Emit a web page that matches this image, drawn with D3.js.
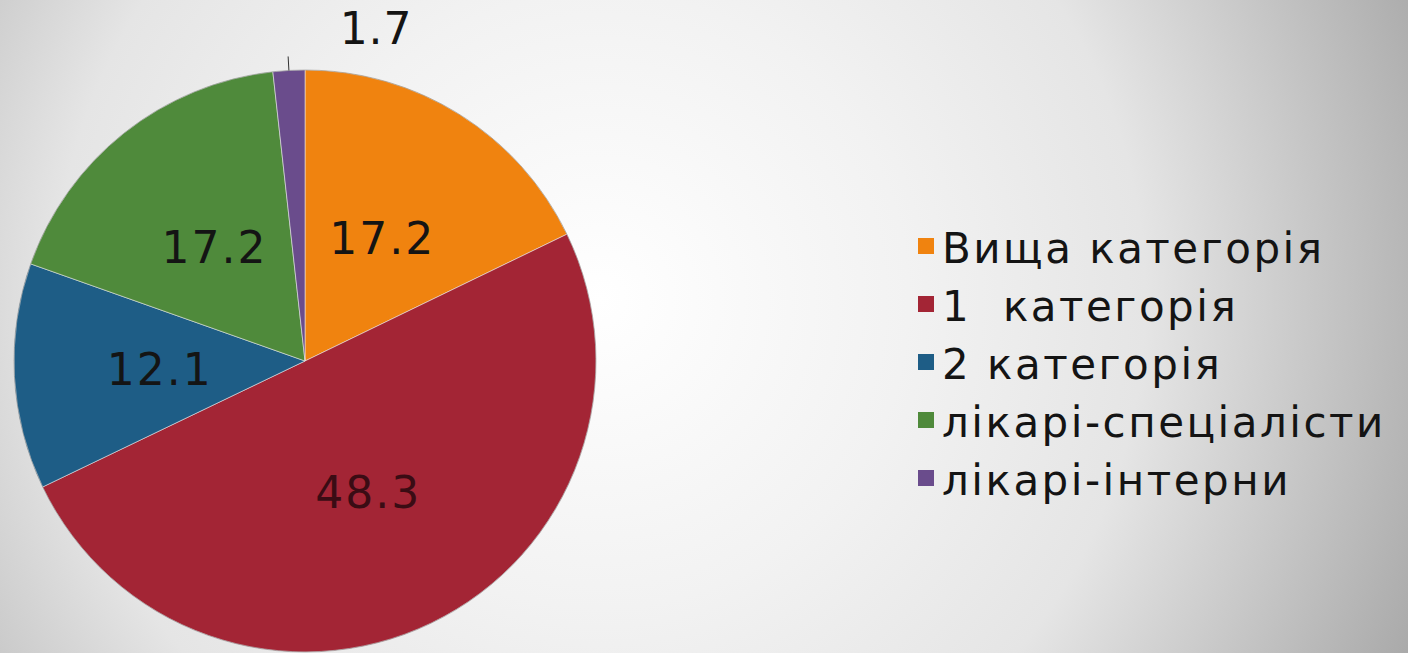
<!DOCTYPE html>
<html>
<head>
<meta charset="utf-8">
<script src="https://cdn.jsdelivr.net/npm/d3@7"></script>
<style>
html,body{margin:0;padding:0;overflow:hidden;background:#fff;}
svg{display:block;}
</style>
</head>
<body>
<svg id="chart" width="1408" height="653"></svg>
<script>
const categories = ["Вища категорія", "1  категорія", "2 категорія", "лікарі-спеціалісти", "лікарі-інтерни"];
const values = [17.2, 48.3, 12.1, 17.2, 1.7];
const labels = ["17.2", "48.3", "12.1", "17.2", "1.7"];
const colors = ["#F0830F", "#A32535", "#1E5D86", "#4F8A3B", "#6A4C8C"];

const W = 1408, H = 653;
const svg = d3.select("#chart");
const defs = svg.append("defs");
const grad = defs.append("radialGradient").attr("id", "bg")
  .attr("gradientUnits", "userSpaceOnUse")
  .attr("cx", 600).attr("cy", 300).attr("r", 880);
grad.append("stop").attr("offset", "0").attr("stop-color", "#ffffff");
grad.append("stop").attr("offset", "0.35").attr("stop-color", "#f2f2f2");
grad.append("stop").attr("offset", "0.62").attr("stop-color", "#e5e5e5");
grad.append("stop").attr("offset", "1").attr("stop-color", "#aaaaaa");
svg.append("rect").attr("width", W).attr("height", H).attr("fill", "url(#bg)");

const cx = 305, cy = 361, R = 291;
const g = svg.append("g").attr("transform", `translate(${cx},${cy})`);

const pie = d3.pie().sort(null).value(d => d)(values);
const arc = d3.arc().innerRadius(0).outerRadius(R);

g.selectAll("path.slice").data(pie).join("path")
  .attr("class", "slice")
  .attr("d", arc)
  .attr("fill", (d, i) => colors[i])
  .attr("stroke", "rgba(235,235,235,0.7)")
  .attr("stroke-width", 0.8);

g.append("circle").attr("r", R).attr("fill", "none")
  .attr("stroke", "rgba(90,90,90,0.35)").attr("stroke-width", 1);

const font = "'DejaVu Sans', Verdana, sans-serif";

// inside labels
g.selectAll("text.lbl").data(pie.slice(0, 4)).join("text")
  .attr("class", "lbl")
  .attr("transform", d => `translate(${arc.centroid(d)})`)
  .attr("dy", "0.36em")
  .attr("text-anchor", "middle")
  .attr("font-family", font)
  .attr("font-size", 44)
  .attr("letter-spacing", 2)
  .attr("fill", (d, i) => i === 1 ? "#3a0c14" : "#141414")
  .text((d, i) => labels[i]);

// outside label for the small slice
const small = pie[4];
const p1 = d3.arc().innerRadius(R).outerRadius(R).centroid(small);
const p2 = d3.arc().innerRadius(R + 14).outerRadius(R + 14).centroid(small);
g.append("line")
  .attr("x1", p1[0]).attr("y1", p1[1]).attr("x2", p2[0]).attr("y2", p2[1])
  .attr("stroke", "#333").attr("stroke-width", 1);
g.append("text")
  .attr("x", p2[0] + 88).attr("y", p2[1] - 12)
  .attr("text-anchor", "middle")
  .attr("font-family", font)
  .attr("font-size", 44)
  .attr("letter-spacing", 1)
  .attr("fill", "#141414")
  .text(labels[4]);

// legend
const lg = svg.append("g").attr("transform", "translate(918,263)");
const rows = lg.selectAll("g.row").data(categories).join("g")
  .attr("class", "row")
  .attr("transform", (d, i) => `translate(0,${i * 58})`);
rows.append("rect").attr("x", 0).attr("y", -25).attr("width", 16).attr("height", 16)
  .attr("fill", (d, i) => colors[i]);
rows.append("text").attr("x", 24).attr("y", 0)
  .attr("font-family", font).attr("font-size", 42)
  .attr("letter-spacing", 2.5)
  .style("white-space", "pre")
  .attr("fill", "#141414")
  .text(d => d);
</script>
</body>
</html>
